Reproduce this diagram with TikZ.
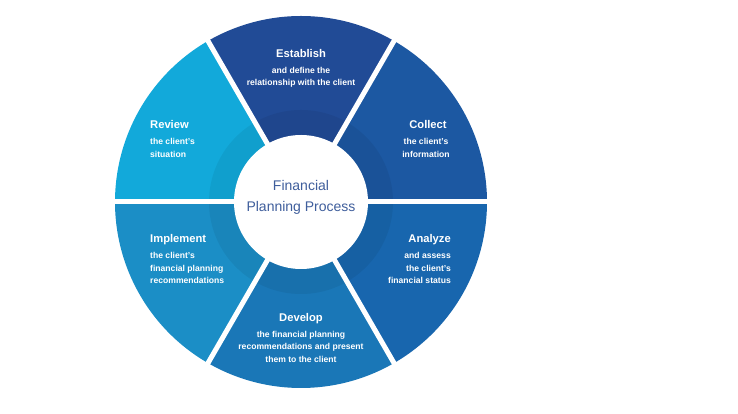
\documentclass[tikz,border=0pt]{standalone}
\usepackage{fontspec}
\setmainfont{Liberation Sans}
\usetikzlibrary{calc}
\begin{document}
\begin{tikzpicture}[x=1pt,y=1pt,
  ttl/.style={text=white,inner sep=0pt,font=\bfseries\fontsize{11.2}{13}\selectfont},
  sub/.style={text=white,inner sep=0pt,font=\bfseries\fontsize{8.6}{12.4}\selectfont},
  gapline/.style={white,line width=5pt}]
\definecolor{cEst}{HTML}{214B96}
\definecolor{cCol}{HTML}{1C58A2}
\definecolor{cAna}{HTML}{1866AE}
\definecolor{cDev}{HTML}{1A77B7}
\definecolor{cImp}{HTML}{1B8EC6}
\definecolor{cRev}{HTML}{12A9DA}
\definecolor{cMid}{HTML}{3F5E9C}
\useasboundingbox (0,0) rectangle (738,414);
\fill[white] (0,0) rectangle (738,414);
\coordinate (c) at (301,212);
\def\R{186}
\fill[cCol] (c) -- ++(0:\R) arc[start angle=0,end angle=60,radius=\R] -- cycle;
\fill[cEst] (c) -- ++(60:\R) arc[start angle=60,end angle=120,radius=\R] -- cycle;
\fill[cRev] (c) -- ++(120:\R) arc[start angle=120,end angle=180,radius=\R] -- cycle;
\fill[cImp] (c) -- ++(180:\R) arc[start angle=180,end angle=240,radius=\R] -- cycle;
\fill[cDev] (c) -- ++(240:\R) arc[start angle=240,end angle=300,radius=\R] -- cycle;
\fill[cAna] (c) -- ++(300:\R) arc[start angle=300,end angle=360,radius=\R] -- cycle;
\fill[black,opacity=0.06,even odd rule] (c) circle (92) (c) circle (66);
\foreach \a in {0,60,...,300} {
  \coordinate (g\a) at ($(c)+(\a:\R+6)$);
  \draw[gapline] (c) -- (g\a);
}
\node[circle,fill=white,minimum size=134pt,inner sep=0pt] (hub) at (c) {};
\node[text=cMid,align=center,inner sep=0pt,font=\fontsize{14}{21}\selectfont] (hubtext) at (301,216.5) {Financial\\Planning Process};
% Establish
\node[ttl] (estT) at (301,360) {Establish};
\node[sub,align=center] (estS) at (301,337) {and define the\\relationship with the client};
% Collect
\node[ttl] (colT) at (428,289) {Collect};
\node[sub,align=center] (colS) at (426,266) {the client's\\information};
% Review
\node[ttl,anchor=west] (revT) at (150,289) {Review};
\node[sub,align=left,anchor=west] (revS) at (150,266) {the client's\\situation};
% Implement
\node[ttl,anchor=west] (impT) at (150,174) {Implement};
\node[sub,align=left,anchor=west] (impS) at (150,145.7) {the client's\\financial planning\\recommendations};
% Analyze
\node[ttl,anchor=east] (anaT) at (451,174) {Analyze};
\node[sub,align=right,anchor=east] (anaS) at (451,145.7) {and assess\\the client's\\financial status};
% Develop
\node[ttl] (devT) at (301,95) {Develop};
\node[sub,align=center] (devS) at (301,67.3) {the financial planning\\recommendations and present\\them to the client};
\end{tikzpicture}
\end{document}
